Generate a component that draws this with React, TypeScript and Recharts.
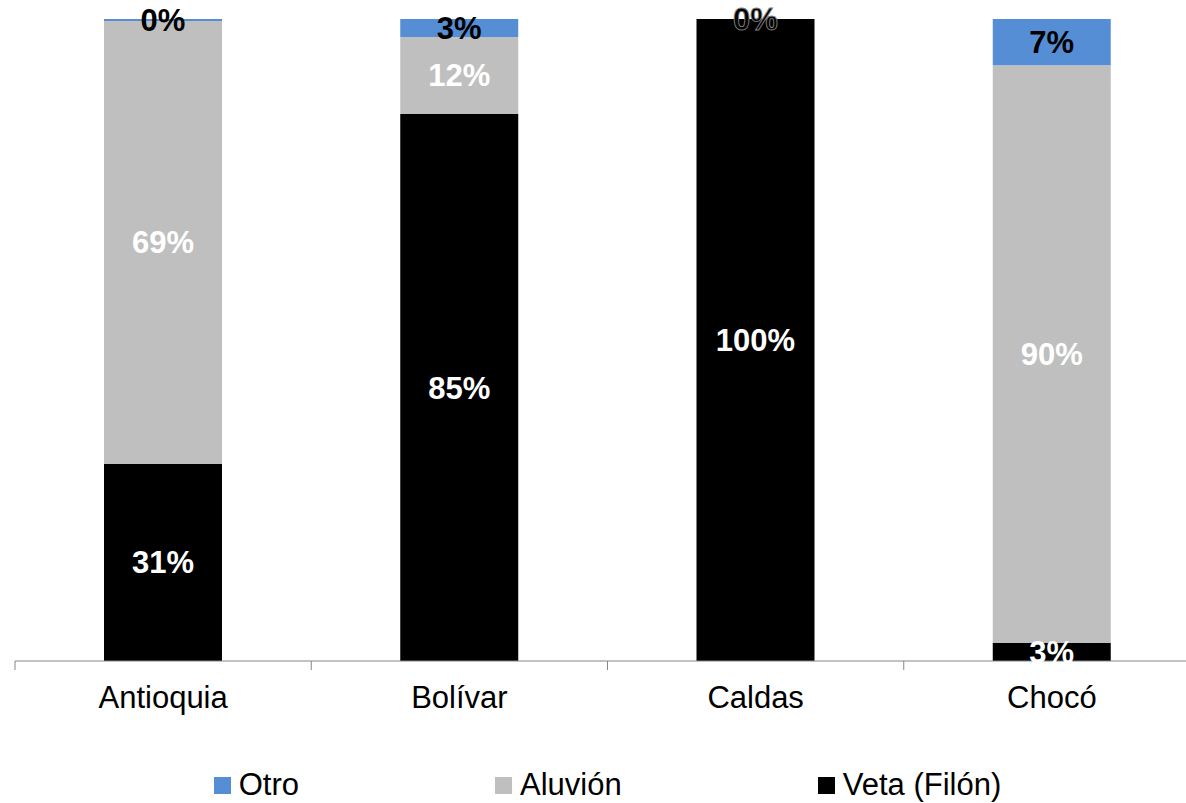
import React from 'react';
import { BarChart, Bar, XAxis, YAxis, LabelList, Legend } from 'recharts';

const categories = ['Antioquia', 'Bolívar', 'Caldas', 'Chocó'];
const veta = [0.307, 0.852, 1.0, 0.028];
const aluvion = [0.69, 0.12, 0.0, 0.9];
const otro = [0.003, 0.028, 0.0, 0.072];

const SERIES = [
  { key: 'veta', label: 'Veta (Filón)', color: '#000000', text: '#FFFFFF' },
  { key: 'aluvion', label: 'Aluvión', color: '#BFBFBF', text: '#FFFFFF' },
  { key: 'otro', label: 'Otro', color: '#558ED5', text: '#000000' },
];

const LEGEND_ORDER = ['otro', 'aluvion', 'veta'];

const data = categories.map((name, i) => ({
  name,
  veta: veta[i],
  aluvion: aluvion[i],
  otro: otro[i],
}));

const FONT = '"Liberation Sans", Arial, sans-serif';

function CategoryTick(props: any) {
  const { x, y, payload } = props;
  const half = payload && payload.offset ? payload.offset : 148;
  return (
    <g>
      <line x1={x - half} y1={y - 8} x2={x - half} y2={y + 1} stroke="#868686" strokeWidth={1} />
      <text x={x} y={y + 39} textAnchor="middle" fill="#000" fontSize={31} fontFamily={FONT}>
        {payload.value}
      </text>
    </g>
  );
}

function pctText(cx: number, cy: number, value: number, color: string, ghost = false) {
  return (
    <text
      x={cx}
      y={cy + 11}
      textAnchor="middle"
      fill={color}
      stroke={ghost ? '#808080' : 'none'}
      strokeWidth={ghost ? 0.9 : 0}
      fontSize={31}
      fontWeight="bold"
      fontFamily={FONT}
    >
      {`${Math.round(value * 100)}%`}
    </text>
  );
}

function makeLabel(color: string) {
  return (props: any) => {
    const { x, y, width, height, value } = props;
    if (value == null) return null;
    return pctText(x + width / 2, y + height / 2, value, color);
  };
}

// zero "Otro" share on a full black bar: Recharts drops the zero-height rect,
// so draw its label at the top of the stack (black text with a faint grey fringe)
function ZeroTopLabel(props: any) {
  const { x, y, width, index } = props;
  if (index == null || otro[index] !== 0 || aluvion[index] !== 0) return null;
  return pctText(x + width / 2, y, otro[index], '#000000', true);
}

function LegendContent() {
  return (
    <div style={{ display: 'flex', justifyContent: 'center', alignItems: 'center', height: 50, paddingTop: 14, boxSizing: 'border-box' }}>
      {LEGEND_ORDER.map((k, i) => {
        const s = SERIES.find(x => x.key === k)!;
        return (
          <div key={k} style={{ display: 'flex', alignItems: 'center', marginLeft: i === 0 ? 0 : 196 }}>
            <span style={{ width: 17, height: 17, background: s.color, display: 'inline-block', marginRight: 8 }} />
            <span style={{ fontSize: 31, fontFamily: FONT, color: '#000', lineHeight: '32px' }}>{s.label}</span>
          </div>
        );
      })}
    </div>
  );
}

export default function App() {
  return (
    <div style={{ position: 'absolute', left: 0, top: 0, width: 1186, height: 803, overflow: 'hidden', background: '#fff' }}>
      <BarChart
        width={1200}
        height={803}
        data={data}
        margin={{ top: 19, right: 0, bottom: 0, left: 15 }}
        barCategoryGap={0}
      >
        <XAxis
          dataKey="name"
          height={92}
          axisLine={{ stroke: '#868686', strokeWidth: 1 }}
          tickLine={false}
          tick={<CategoryTick />}
          interval={0}
        />
        <YAxis hide domain={[0, 1]} />
        <Legend verticalAlign="bottom" height={50} content={<LegendContent />} />
        {SERIES.map(s => (
          <Bar key={s.key} dataKey={s.key} stackId="a" fill={s.color} barSize={118} isAnimationActive={false}>
            <LabelList dataKey={s.key} content={makeLabel(s.text)} />
            {s.key === 'veta' && <LabelList dataKey="veta" content={ZeroTopLabel} />}
          </Bar>
        ))}
      </BarChart>
    </div>
  );
}
